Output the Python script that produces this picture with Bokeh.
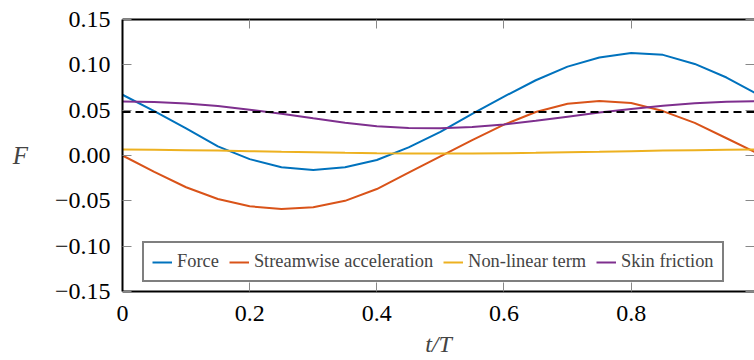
from bokeh.plotting import figure
from bokeh.models import (Legend, LegendItem, LinearAxis, FixedTicker, Span,
                          ColumnDataSource)
from bokeh.embed import file_html
from bokeh.resources import INLINE

# ---- data ----
t_over_T = [0.00, 0.05, 0.10, 0.15, 0.20, 0.25, 0.30, 0.35, 0.40, 0.45, 0.50,
            0.55, 0.60, 0.65, 0.70, 0.75, 0.80, 0.85, 0.90, 0.95, 1.00]
force = [0.067, 0.049, 0.030, 0.010, -0.004, -0.013, -0.016, -0.013, -0.005, 0.009, 0.026,
         0.046, 0.065, 0.083, 0.098, 0.108, 0.113, 0.111, 0.101, 0.086, 0.067]
streamwise_acceleration = [0.000, -0.018, -0.035, -0.048, -0.056, -0.059, -0.057, -0.050, -0.037, -0.019, -0.001,
                           0.017, 0.034, 0.048, 0.057, 0.060, 0.058, 0.049, 0.036, 0.019, 0.002]
nonlinear_term = [0.0065, 0.0063, 0.0059, 0.0054, 0.0048, 0.0041, 0.0035, 0.0029, 0.0025, 0.0022, 0.0021,
                  0.0022, 0.0025, 0.0029, 0.0035, 0.0041, 0.0048, 0.0054, 0.0059, 0.0063, 0.0066]
skin_friction = [0.0595, 0.0590, 0.0573, 0.0545, 0.0505, 0.0460, 0.0410, 0.0362, 0.0322, 0.0302, 0.0300,
                 0.0313, 0.0342, 0.0382, 0.0428, 0.0473, 0.0513, 0.0548, 0.0575, 0.0592, 0.0598]
mean_force = 0.048

series_names = ["Force", "Streamwise acceleration", "Non-linear term", "Skin friction"]
series_colors = ["#0072BD", "#D95319", "#EDB120", "#7E2F8E"]

x_ticks = [0, 0.2, 0.4, 0.6, 0.8]
x_tick_labels = ["0", "0.2", "0.4", "0.6", "0.8"]
y_ticks = [-0.15, -0.10, -0.05, 0.0, 0.05, 0.10, 0.15]
y_tick_labels = ["\u22120.15", "\u22120.10", "\u22120.05", "0.00", "0.05", "0.10", "0.15"]

FONT = "Liberation Serif"

p = figure(width=754, height=360, x_range=(0, 0.994), y_range=(-0.15, 0.15),
           output_backend="svg", toolbar_location=None,
           min_border_left=122, min_border_right=0, min_border_top=19,
           min_border_bottom=69)
p.outline_line_color = None
p.xgrid.grid_line_color = None
p.ygrid.grid_line_color = None
p.background_fill_color = "white"
p.border_fill_color = "white"

src = ColumnDataSource(dict(t=t_over_T, f=force, s=streamwise_acceleration,
                            n=nonlinear_term, k=skin_friction))

span = Span(location=mean_force, dimension="width", line_color="black",
            line_width=2, line_dash="8 5")
p.add_layout(span)

renderers = []
for col, color in zip(["f", "s", "n", "k"], series_colors):
    r = p.line("t", col, source=src, line_color=color, line_width=2)
    renderers.append(r)


def style_axis(ax, show_labels=True, show_line=True):
    ax.major_tick_in = 9
    ax.major_tick_out = 0
    ax.minor_tick_line_color = None
    ax.major_tick_line_color = "#888888"
    ax.major_tick_line_width = 1
    ax.axis_line_color = "black" if show_line else None
    ax.axis_line_width = 2
    ax.major_label_text_font = FONT
    if show_labels:
        ax.major_label_text_font_size = "24px"
        ax.major_label_text_color = "black"
    else:
        ax.major_label_text_font_size = "1px"
        ax.major_label_text_color = None
        ax.major_label_standoff = 0


xa = p.xaxis[0]
xa.ticker = FixedTicker(ticks=x_ticks)
xa.major_label_overrides = {v: s for v, s in zip(x_ticks, x_tick_labels)}
style_axis(xa)
xa.major_label_standoff = 14
xa.axis_label = "t/T"
xa.axis_label_text_font = FONT
xa.axis_label_text_font_style = "italic"
xa.axis_label_text_font_size = "24px"
xa.axis_label_standoff = 7

ya = p.yaxis[0]
ya.ticker = FixedTicker(ticks=y_ticks)
ya.major_label_overrides = {v: s for v, s in zip(y_ticks, y_tick_labels)}
style_axis(ya)
ya.major_label_standoff = 12
ya.axis_label = "F"
ya.axis_label_text_font = FONT
ya.axis_label_text_font_style = "italic"
ya.axis_label_text_font_size = "25px"
ya.axis_label_standoff = 24
ya.axis_label_orientation = "horizontal"

top = LinearAxis(ticker=FixedTicker(ticks=x_ticks))
style_axis(top, show_labels=False)
p.add_layout(top, "above")

right = LinearAxis(ticker=FixedTicker(ticks=y_ticks))
style_axis(right, show_labels=False, show_line=False)
p.add_layout(right, "right")

legend = Legend(items=[LegendItem(label=n, renderers=[r]) for n, r in zip(series_names, renderers)],
                orientation="horizontal", location=(20, 9))
legend.label_text_font = FONT
legend.label_text_font_size = "18.4px"
legend.border_line_color = "black"
legend.border_line_width = 2
legend.glyph_width = 20
legend.glyph_height = 18
legend.label_standoff = 5
legend.spacing = 10
legend.padding = 8
legend.margin = 0
legend.label_height = 18
legend.background_fill_color = "white"
legend.background_fill_alpha = 1
p.add_layout(legend, "center")

open("out.html", "w").write(file_html(p, INLINE))
